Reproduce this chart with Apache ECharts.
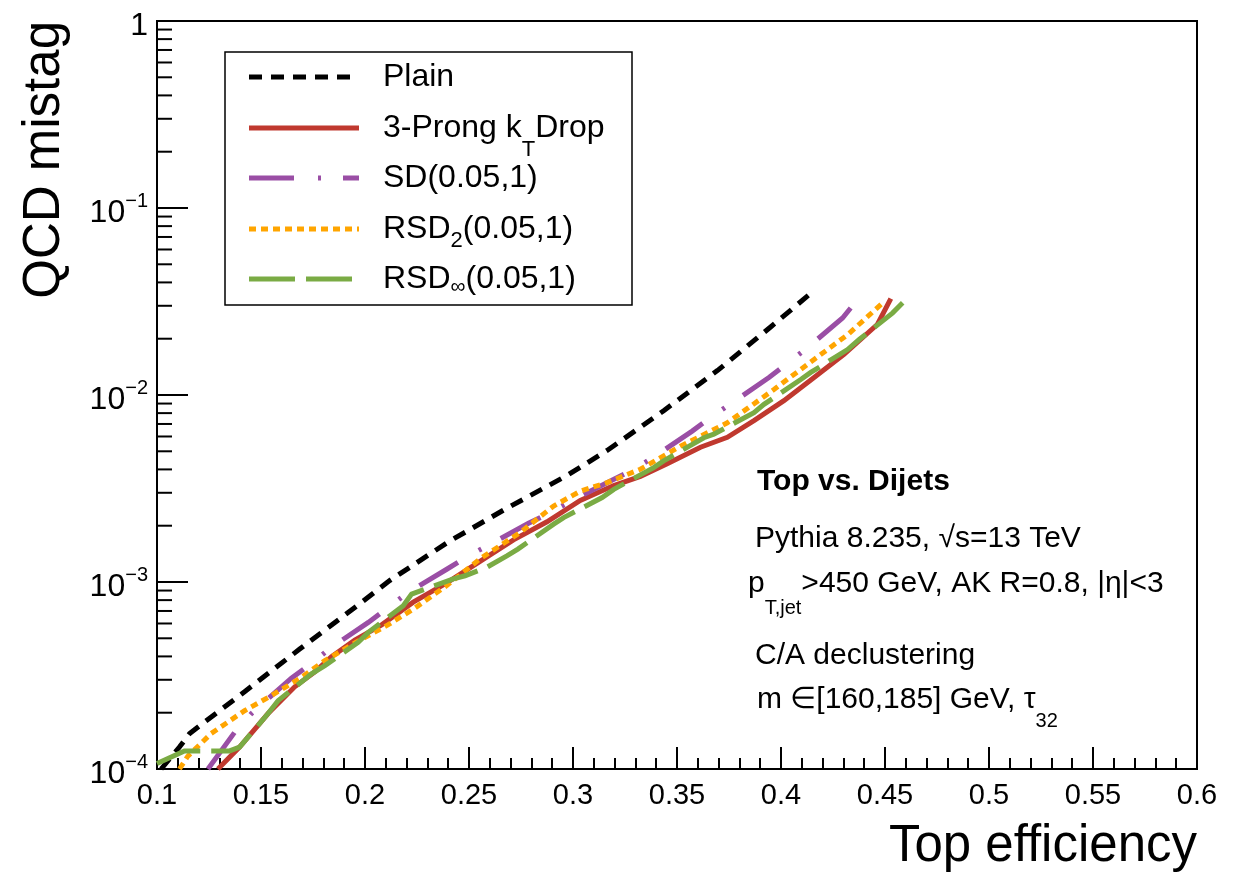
<!DOCTYPE html>
<html><head><meta charset="utf-8">
<script src="https://cdn.jsdelivr.net/npm/echarts@6/dist/echarts.min.js"></script>
<style>html,body{margin:0;padding:0;background:#fff}#c{width:1249px;height:874px}</style>
</head><body><div id="c"></div>
<script>
// ---------------- data ----------------
const xTickLabels = ['0.1','0.15','0.2','0.25','0.3','0.35','0.4','0.45','0.5','0.55','0.6'];
const yTickExponents = [-4, -3, -2, -1, 0];
const yMinorDecades = [1e-4, 1e-3, 1e-2, 1e-1];
const yMinorMultipliers = [2, 3, 4, 5, 6, 7, 8, 9];

const plainX = [0.102, 0.1108, 0.1157, 0.1421, 0.1686, 0.1951, 0.2120, 0.2401, 0.2682, 0.2971, 0.3164, 0.3436, 0.3694, 0.3950, 0.4150];
const plainY = [1.0e-4, 1.31e-4, 1.55e-4, 2.59e-4, 4.38e-4, 7.31e-4, 1.02e-3, 1.64e-3, 2.48e-3, 3.71e-3, 5.05e-3, 8.24e-3, 1.35e-2, 2.31e-2, 3.55e-2];

const prongX = [0.1293, 0.1397, 0.1534, 0.1662, 0.1759, 0.1839, 0.1951, 0.2080, 0.2232, 0.2393, 0.2553, 0.2714, 0.2875, 0.3035, 0.3196, 0.3324, 0.3453, 0.3613, 0.3742, 0.3870, 0.4014, 0.4159, 0.4303, 0.4464, 0.4528];
const prongY = [1.0e-4, 1.31e-4, 1.98e-4, 2.75e-4, 3.31e-4, 3.98e-4, 4.89e-4, 5.9e-4, 7.8e-4, 9.9e-4, 1.29e-3, 1.68e-3, 2.10e-3, 2.73e-3, 3.28e-3, 3.67e-3, 4.29e-3, 5.26e-3, 5.94e-3, 7.30e-3, 9.33e-3, 1.24e-2, 1.65e-2, 2.39e-2, 3.28e-2];

const sdX = [0.1245, 0.1373, 0.1454, 0.1646, 0.1750, 0.1839, 0.2016, 0.2112, 0.2208, 0.2393, 0.2497, 0.2602, 0.2786, 0.2891, 0.3003, 0.3180, 0.3292, 0.3396, 0.3573, 0.3670, 0.3766, 0.3942, 0.4039, 0.4127, 0.4296, 0.4368];
const sdY = [1.0e-4, 1.57e-4, 1.98e-4, 3.06e-4, 3.72e-4, 4.48e-4, 6.08e-4, 7.31e-4, 8.79e-4, 1.17e-3, 1.38e-3, 1.59e-3, 2.06e-3, 2.35e-3, 2.76e-3, 3.47e-3, 4.0e-3, 4.72e-3, 6.41e-3, 7.71e-3, 9.09e-3, 1.24e-2, 1.50e-2, 1.79e-2, 2.58e-2, 3.24e-2];

const rsd2X = [0.1108, 0.1148, 0.1261, 0.1421, 0.1550, 0.1695, 0.1807, 0.1951, 0.2112, 0.2240, 0.2393, 0.2553, 0.2746, 0.2907, 0.3035, 0.3164, 0.3324, 0.3517, 0.3742, 0.3966, 0.4159, 0.4320, 0.4495];
const rsd2Y = [1.0e-4, 1.17e-4, 1.55e-4, 2.05e-4, 2.47e-4, 3.09e-4, 3.8e-4, 4.72e-4, 5.91e-4, 7.26e-4, 9.57e-4, 1.33e-3, 1.84e-3, 2.55e-3, 3.06e-3, 3.40e-3, 4.01e-3, 5.33e-3, 7.10e-3, 1.07e-2, 1.55e-2, 2.10e-2, 3.15e-2];

const rsdInfX = [0.1000, 0.1132, 0.1349, 0.1397, 0.1534, 0.1582, 0.1743, 0.1807, 0.1967, 0.2016, 0.2184, 0.2224, 0.2425, 0.2481, 0.2586, 0.2682, 0.2735, 0.2907, 0.2955, 0.3140, 0.3196, 0.3388, 0.3436, 0.3629, 0.3677, 0.3870, 0.3918, 0.4095, 0.4143, 0.4320, 0.4376, 0.4537, 0.4585];
const rsdInfY = [1.07e-4, 1.25e-4, 1.25e-4, 1.31e-4, 1.98e-4, 2.32e-4, 3.23e-4, 3.57e-4, 4.76e-4, 5.38e-4, 7.46e-4, 8.61e-4, 1.04e-3, 1.08e-3, 1.20e-3, 1.38e-3, 1.50e-3, 2.04e-3, 2.21e-3, 2.83e-3, 3.13e-3, 4.09e-3, 4.44e-3, 5.91e-3, 6.17e-3, 8.05e-3, 8.91e-3, 1.21e-2, 1.32e-2, 1.75e-2, 1.98e-2, 2.75e-2, 3.11e-2];

const seriesNames = ['Plain', '3-Prong kTDrop', 'SD(0.05,1)', 'RSD2(0.05,1)', 'RSDinf(0.05,1)'];
const legendTexts = ['{b|Plain}', '{b|3-Prong k}{t|T}{b|Drop}', '{b|SD(0.05,1)}', '{b|RSD}{u|2}{b|(0.05,1)}', '{b|RSD}{v|∞}{b|(0.05,1)}'];
const xTitle = 'Top efficiency';
const yTitle = 'QCD mistag';
const annotationLines = [
  '{h|Top vs. Dijets}',
  '{b|Pythia 8.235, √s=13 TeV}',
  '{b|p}{s|T,jet}{b|>450 GeV, AK R=0.8, |η|<3}',
  '{b|C/A declustering}',
  '{b|m ∈[160,185] GeV, τ}{r|32}'
];

// ---------------- styles ----------------
const FONT = '"Liberation Sans", Arial, Helvetica, sans-serif';
const seriesData = [[plainX, plainY], [prongX, prongY], [sdX, sdY], [rsd2X, rsd2Y], [rsdInfX, rsdInfY]];
const seriesStyles = [
  {color: '#000000', dash: [13, 9]},
  {color: '#c0392f', dash: 'solid'},
  {color: '#9a4ea5', dash: [45, 24, 3, 22]},
  {color: '#ffa500', dash: [7, 5]},
  {color: '#7aab44', dash: [46, 11]}
];
const LW = 5;

const minorTickValues = [];
yMinorDecades.forEach(d => yMinorMultipliers.forEach(m => minorTickValues.push([0.1, d * m])));

const chart = echarts.init(document.getElementById('c'), null, {renderer: 'canvas'});

const lineSeries = seriesData.map((d, i) => ({
  name: seriesNames[i],
  type: 'line',
  data: d[0].map((x, j) => [x, d[1][j]]),
  showSymbol: false,
  symbol: 'none',
  smooth: false,
  clip: true,
  z: 3 + i,
  lineStyle: {color: seriesStyles[i].color, width: LW, type: seriesStyles[i].dash, cap: 'butt', join: 'miter'},
  emphasis: {disabled: true}
}));

const minorSeries = {
  type: 'custom',
  coordinateSystem: 'cartesian2d',
  data: minorTickValues,
  silent: true,
  clip: false,
  z: 10,
  renderItem: (params, api) => {
    const p = api.coord([api.value(0), api.value(1)]);
    return {type: 'line', shape: {x1: p[0], y1: p[1], x2: p[0] + 15, y2: p[1]}, style: {stroke: '#000', lineWidth: 2}};
  }
};

// legend graphics
const legendRowY = [77, 128, 178, 229, 279];
const legendRich = {
  b: {fontSize: 32, height: 32, verticalAlign: 'top', fontFamily: FONT, fill: '#000'},
  t: {fontSize: 22, height: 22, verticalAlign: 'top', padding: [27, 0, 0, 0], fontFamily: FONT, fill: '#000'},
  u: {fontSize: 22, height: 22, verticalAlign: 'top', padding: [17, 0, 0, 0], fontFamily: FONT, fill: '#000'},
  v: {fontSize: 21, height: 21, verticalAlign: 'top', padding: [14, 0, 0, 0], fontFamily: FONT, fill: '#000'}
};
const graphics = [
  {type: 'rect', shape: {x: 225, y: 52, width: 407, height: 253}, style: {fill: '#fff', stroke: '#000', lineWidth: 1.5}, z: 100}
];
legendRowY.forEach((yc, i) => {
  const st = seriesStyles[i];
  graphics.push({type: 'line', shape: {x1: 249, y1: yc, x2: 359, y2: yc},
    style: {stroke: st.color, lineWidth: LW, lineDash: st.dash === 'solid' ? null : st.dash}, z: 101});
  graphics.push({type: 'text', x: 383, y: yc - 16, z: 101,
    style: {text: legendTexts[i], rich: legendRich, align: 'left', verticalAlign: 'top', fontSize: 32, fontFamily: FONT, fill: '#000'}});
});

// annotation
const annRich = {
  h: {fontSize: 30, height: 30, fontWeight: 'bold', verticalAlign: 'top', fontFamily: FONT, fill: '#000'},
  b: {fontSize: 30, height: 30, verticalAlign: 'top', fontFamily: FONT, fill: '#000'},
  s: {fontSize: 20, height: 20, verticalAlign: 'top', padding: [29, 0, 0, 0], fontFamily: FONT, fill: '#000'},
  r: {fontSize: 20, height: 20, verticalAlign: 'top', padding: [26, 0, 0, 0], fontFamily: FONT, fill: '#000'}
};
const annX = [757, 755, 748, 755, 757];
const annY = [482, 539, 584, 656, 700];
annotationLines.forEach((t, i) => {
  graphics.push({type: 'text', x: annX[i], y: annY[i] - 15, z: 50,
    style: {text: t, rich: annRich, align: 'left', verticalAlign: 'top', fontSize: 30, fontFamily: FONT, fill: '#000'}});
});

// axis titles
graphics.push({type: 'text', x: 1197, y: 847, z: 50,
  style: {text: xTitle, fontSize: 51, fontFamily: FONT, fill: '#000', align: 'right', verticalAlign: 'middle'}});
graphics.push({type: 'text', x: 45, y: 21, rotation: Math.PI / 2, z: 50,
  style: {text: yTitle, fontSize: 51, fontFamily: FONT, fill: '#000', align: 'right', verticalAlign: 'middle'}});

const option = {
  animation: false,
  backgroundColor: '#fff',
  grid: {left: 157, right: 52, top: 21, bottom: 105, show: true, borderColor: '#000', borderWidth: 2, backgroundColor: 'transparent'},
  xAxis: {
    type: 'value', min: 0.1, max: 0.6, interval: 0.05,
    axisLine: {show: true, onZero: false, lineStyle: {color: '#000', width: 2}},
    axisTick: {show: true, inside: true, length: 22, lineStyle: {color: '#000', width: 2}},
    minorTick: {show: true, splitNumber: 5, length: 11, lineStyle: {color: '#000', width: 2}},
    splitLine: {show: false},
    axisLabel: {
      color: '#000', fontSize: 29, fontFamily: FONT, margin: 12,
      formatter: v => xTickLabels[Math.round((v - 0.1) / 0.05)]
    }
  },
  yAxis: {
    type: 'log', logBase: 10, min: 1e-4, max: 1,
    axisLine: {show: true, onZero: false, lineStyle: {color: '#000', width: 2}},
    axisTick: {show: true, inside: true, length: 31, lineStyle: {color: '#000', width: 2}},
    splitLine: {show: false},
    minorTick: {show: false},
    axisLabel: {
      color: '#000', margin: 9,
      formatter: v => {
        const e = Math.round(Math.log10(v));
        if (yTickExponents.indexOf(e) < 0) return '';
        return e === 0 ? '{b|1}' : '{b|10}{s|−' + (-e) + '}';
      },
      rich: {
        b: {fontSize: 32, height: 32, fontFamily: FONT, color: '#000', verticalAlign: 'top', padding: [10, 0, 0, 0]},
        s: {fontSize: 20, height: 20, fontFamily: FONT, color: '#000', verticalAlign: 'top', padding: [4, 0, 0, 0]}
      }
    }
  },
  series: lineSeries.concat([minorSeries]),
  graphic: graphics
};
chart.setOption(option);
</script>
</body></html>
